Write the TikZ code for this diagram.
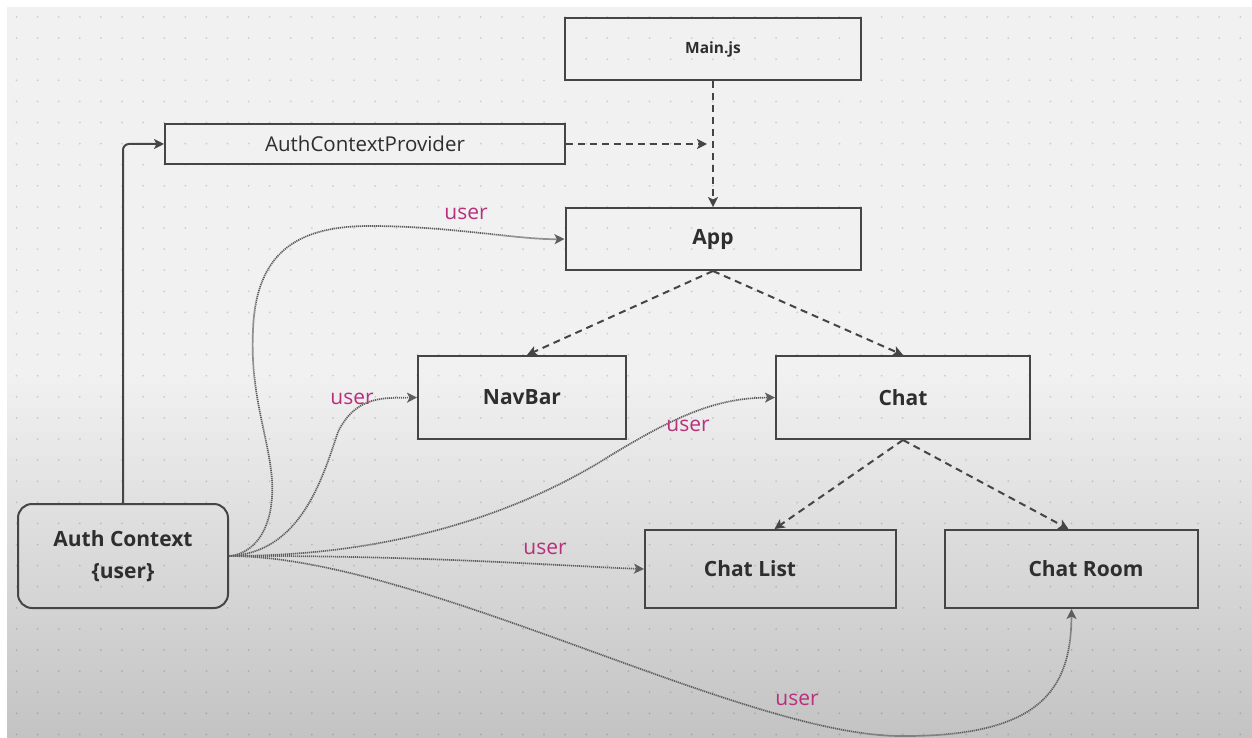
\documentclass[tikz,border=0pt]{standalone}
\usepackage{fontspec}
\setmainfont{Open Sans}
\usetikzlibrary{arrows.meta}
\definecolor{linec}{HTML}{454545}
\definecolor{txtc}{HTML}{2E2E2E}
\definecolor{userc}{RGB}{184,48,124}
\definecolor{bgc}{HTML}{F1F1F1}
\definecolor{bgbot}{HTML}{C3C3C3}
\definecolor{dotc}{HTML}{5E5E5E}
\pgfdeclareverticalshading{bgshade}{100bp}{color(0bp)=(bgbot); color(25bp)=(bgbot); color(50bp)=(bgc); color(75bp)=(bgc); color(100bp)=(bgc)}
\begin{document}
\begin{tikzpicture}[x=1pt,y=-1pt,
  box/.style={draw=linec, line width=2pt, inner sep=0pt, text=txtc,
    font=\fontsize{21}{32}\selectfont\bfseries},
  lbl/.style={text=txtc, font=\fontsize{21}{24}\selectfont\bfseries, inner sep=0pt},
  usr/.style={text=userc, font=\fontsize{21}{24}\selectfont, inner sep=0pt},
  dashedarrow/.style={draw=linec, line width=2pt, dash pattern=on 7pt off 5pt,
    -{Stealth[length=10pt,width=10pt,inset=2.5pt]}},
  solidarrow/.style={draw=linec, line width=2pt,
    -{Stealth[length=10pt,width=10pt,inset=2.5pt]}},
  dottedarrow/.style={draw=dotc, line width=1.7pt, dash pattern=on 1.2pt off 0.8pt,
    -{Stealth[length=10pt,width=10pt,inset=2.5pt]}}
]
% background
\useasboundingbox (0,0) rectangle (1252,738);
\fill[white] (0,0) rectangle (1252,738);
\shade[shading=bgshade] (7,8) rectangle (1252,738);
\foreach \i in {0,...,58}{
  \foreach \j in {0,...,34}{
    \fill[black,opacity=0.15] (16.5+21.1*\i,17+21.1*\j) circle (1pt);
  }
}
% boxes
\node[box, minimum width=296pt, minimum height=62pt,
  font=\fontsize{15.5}{18}\selectfont\bfseries] (main) at (713,49) {Main.js};
\node[box, minimum width=400pt, minimum height=40pt,
  font=\fontsize{20.5}{24}\selectfont] (acp) at (365,144) {AuthContextProvider};
\node[box, minimum width=295pt, minimum height=62pt] (app) at (713,239) {App};
\node[box, minimum width=208pt, minimum height=83pt] (nav) at (522,397.5) {NavBar};
\node[box, minimum width=254pt, minimum height=83pt] (chat) at (903,397.5) {Chat};
\node[box, minimum width=251pt, minimum height=78pt] (cl) at (770.5,569) {};
\node[box, minimum width=253pt, minimum height=78pt] (cr) at (1071.5,569) {};
\node[lbl] (cltext) at (750,569) {Chat List};
\node[lbl] (crtext) at (1086,569) {Chat Room};
\node[box, rounded corners=14pt, minimum width=210pt, minimum height=104pt,
  align=center] (ac) at (123,556) {Auth Context\\\{user\}};
\coordinate (acpend) at (707,144);
% solid and dashed connectors
\draw[solidarrow, rounded corners=6pt] (ac.north) |- (acp.west);
\draw[dashedarrow] (acp.east) -- (acpend);
\draw[dashedarrow] (main.south) -- (app.north);
\draw[dashedarrow] (app.south) -- ([xshift=5pt]nav.north);
\draw[dashedarrow] (app.south) -- (chat.north);
\draw[dashedarrow] (chat.south) -- ([xshift=4pt]cl.north);
\draw[dashedarrow] (chat.south) -- ([xshift=-3pt]cr.north);
% dotted "user" connectors
\draw[dottedarrow] (ac.east) .. controls (262,553) and (277,515) .. (271,470)
  .. controls (266,430) and (250,390) .. (253,330)
  .. controls (256,250) and (300,226) .. (370,226)
  .. controls (450,226) and (520,240) .. (app.west);
\draw[dottedarrow] (ac.east) .. controls (300,553) and (322,480) .. (338,432)
  .. controls (356,395) and (385,398) .. (nav.west);
\draw[dottedarrow] (ac.east) .. controls (400,556) and (520,510) .. (600,462)
  .. controls (680,412) and (720,398) .. (chat.west);
\draw[dottedarrow] (ac.east) .. controls (420,555) and (560,566) .. (cl.west);
\draw[dottedarrow] (ac.east) .. controls (420,556) and (740,735) .. (900,736)
  .. controls (1040,737) and (1071,690) .. (cr.south);
% labels
\node[usr] (u1) at (466,214) {user};
\node[usr] (u2) at (352,399) {user};
\node[usr] (u3) at (688,426) {user};
\node[usr] (u4) at (545,549) {user};
\node[usr] (u5) at (797,700) {user};
\end{tikzpicture}
\end{document}
